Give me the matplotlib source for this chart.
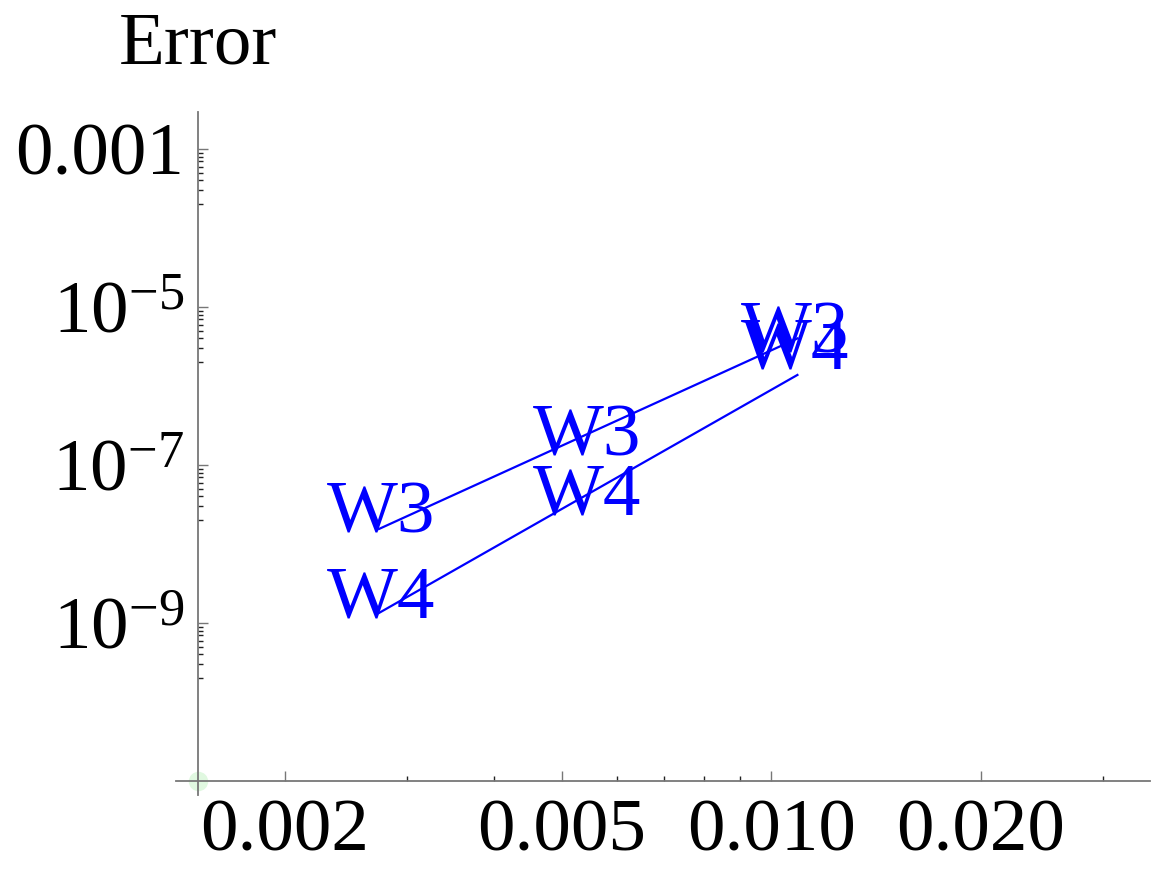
import matplotlib
matplotlib.use("Agg")
import matplotlib.pyplot as plt
from matplotlib.lines import Line2D
import numpy as np

# data points, shown as text markers
h = [0.00275, 0.00543, 0.0108]
err_w3 = [2.35e-8, 2.2e-7, 4.5e-6]
err_w4 = [1.98e-9, 3.95e-8, 2.8e-6]

# reference slope lines
h_ref = [0.00273, 0.0109]
ref_w3 = [1.55e-8, 4.0e-6]
ref_w4 = [1.34e-9, 1.38e-6]

xticks = [0.002, 0.005, 0.01, 0.02]
xtick_labels = ["0.002", "0.005", "0.010", "0.020"]
xminor = [0.003, 0.004, 0.006, 0.007, 0.008, 0.009, 0.03]
yticks = [1e-3, 1e-5, 1e-7, 1e-9]
ytick_labels = ["0.001", "$10^{-5}$", "$10^{-7}$", "$10^{-9}$"]


def main():
    plt.rcParams['font.family'] = ['Liberation Serif', 'DejaVu Serif']
    plt.rcParams['mathtext.fontset'] = 'custom'
    plt.rcParams['mathtext.rm'] = 'Liberation Serif'
    plt.rcParams['mathtext.it'] = 'Liberation Serif:italic'

    W, H = 1154, 869
    fig = plt.figure(figsize=(W / 100, H / 100), dpi=100)
    ax = fig.add_axes([198 / W, (H - 781) / H, (1150 - 198) / W, (781 - 112) / H])

    ax.set_xscale('log')
    ax.set_yscale('log')
    ax.set_xlim(0.0015, 0.035)
    ax.set_ylim(1e-11, 2.94e-3)

    ax.plot(h_ref, ref_w3, color='#0000ff', lw=1.6)
    ax.plot(h_ref, ref_w4, color='#0000ff', lw=1.6)
    for x, y in zip(h, err_w3):
        ax.text(x, y, "W3", color='#0000ff', fontsize=54, ha='center', va='center')
    for x, y in zip(h, err_w4):
        ax.text(x, y, "W4", color='#0000ff', fontsize=54, ha='center', va='center')

    for s in ['top', 'right']:
        ax.spines[s].set_visible(False)
    for s in ['left', 'bottom']:
        ax.spines[s].set_color('#777777')
        ax.spines[s].set_linewidth(1.3)

    # small axis overhang past the origin
    fig.add_artist(Line2D([176 / W, 198 / W], [(H - 781) / H] * 2,
                          color='#777777', lw=1.3))
    fig.add_artist(Line2D([198 / W] * 2, [(H - 781) / H, (H - 795) / H],
                          color='#777777', lw=1.3))
    ax.plot([0.0015], [1e-11], 'o', color='#66dd66', alpha=0.2, ms=14,
            mec='none', clip_on=False, zorder=0)

    ax.set_xticks(xticks)
    ax.set_xticklabels(xtick_labels)
    ax.set_xticks(xminor, minor=True)
    ax.set_xticklabels([], minor=True)
    ymin = [m * 10.0 ** (np.log10(t) - 1) for t in yticks for m in range(2, 10)]
    ax.set_yticks(yticks)
    ax.set_yticklabels(ytick_labels)
    ax.set_yticks(ymin, minor=True)
    ax.set_yticklabels([], minor=True)

    ax.tick_params(which='major', direction='in', length=7.5, width=1.0,
                   color='#777777', labelsize=54)
    ax.tick_params(which='minor', direction='in', length=3.8, width=1.0,
                   color='#222222')
    ax.tick_params(axis='x', which='major', pad=13)
    ax.tick_params(axis='y', which='major', pad=10)

    fig.text(198 / W, 1 - 63 / H, "Error", fontsize=54, ha='center', va='baseline')

    fig.savefig("out.png", dpi=100)


if __name__ == "__main__":
    main()
